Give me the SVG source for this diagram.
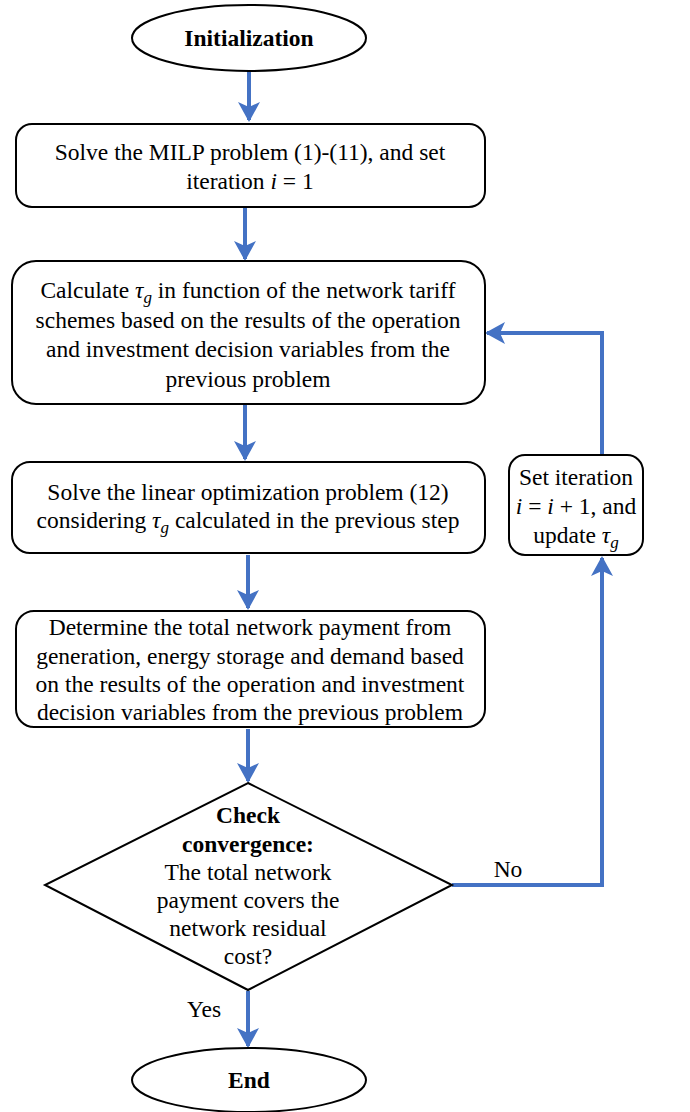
<svg xmlns="http://www.w3.org/2000/svg" width="690" height="1112" viewBox="0 0 690 1112">
<defs>
<style>
.n{fill:#fff;stroke:#000;stroke-width:2}
.t{font-family:"Liberation Serif","Times New Roman",serif;font-size:23.5px;fill:#000;text-anchor:middle}
.b{font-weight:bold}
.m{font-style:italic}
.c{fill:none;stroke:#4472C4;stroke-width:4}
</style>
<marker id="ah" viewBox="0 0 20 22" refX="18" refY="11" markerWidth="20" markerHeight="22" markerUnits="userSpaceOnUse" orient="auto">
<path d="M0,0 L20,11 L0,22 L5,11 Z" fill="#4472C4"/>
</marker>
</defs>
<rect width="690" height="1112" fill="#fff"/>
<g id="connectors">
<line class="c" x1="249" y1="72" x2="249" y2="120" marker-end="url(#ah)"/>
<line class="c" x1="245" y1="208" x2="245" y2="259" marker-end="url(#ah)"/>
<line class="c" x1="245" y1="405" x2="245" y2="459" marker-end="url(#ah)"/>
<line class="c" x1="248" y1="555" x2="248" y2="608" marker-end="url(#ah)"/>
<line class="c" x1="248" y1="729" x2="248" y2="781" marker-end="url(#ah)"/>
<line class="c" x1="248" y1="991" x2="248" y2="1046" marker-end="url(#ah)"/>
<path class="c" d="M452,885 H602 V558" marker-end="url(#ah)"/>
<path class="c" d="M602,455 V333 H487" marker-end="url(#ah)"/>
<text class="t" x="508" y="877">No</text>
<text class="t" x="204" y="1017">Yes</text>
</g>
<g id="init">
<ellipse class="n" cx="249" cy="38" rx="117" ry="33"/>
<text class="t b" x="249" y="46">Initialization</text>
</g>
<g id="milp">
<rect class="n" x="16" y="124" width="469" height="83" rx="16"/>
<text class="t" x="250" y="160">Solve the MILP problem (1)-(11), and set</text>
<text class="t" x="250" y="189">iteration <tspan class="m">i</tspan> = 1</text>
</g>
<g id="calc">
<rect class="n" x="12" y="261" width="473" height="143" rx="24"/>
<text class="t" x="248" y="298">Calculate <tspan class="m">τ</tspan><tspan class="m" font-size="17" dy="5">g</tspan><tspan dy="-5"> in function of the network tariff</tspan></text>
<text class="t" x="248" y="327.5">schemes based on the results of the operation</text>
<text class="t" x="248" y="357">and investment decision variables from the</text>
<text class="t" x="248" y="386.5">previous problem</text>
</g>
<g id="lin">
<rect class="n" x="12" y="462" width="473" height="91" rx="18"/>
<text class="t" x="248" y="500">Solve the linear optimization problem (12)</text>
<text class="t" x="248" y="528">considering <tspan class="m">τ</tspan><tspan class="m" font-size="17" dy="5">g</tspan><tspan dy="-5"> calculated in the previous step</tspan></text>
</g>
<g id="det">
<rect class="n" x="16" y="611" width="469" height="116" rx="18"/>
<text class="t" x="250" y="635">Determine the total network payment from</text>
<text class="t" x="250" y="664">generation, energy storage and demand based</text>
<text class="t" x="250" y="692">on the results of the operation and investment</text>
<text class="t" x="250" y="720">decision variables from the previous problem</text>
</g>
<g id="check">
<polygon class="n" points="248,783 452,885 248,990 45,885"/>
<text class="t b" x="248" y="823">Check</text>
<text class="t b" x="248" y="852">convergence:</text>
<text class="t" x="248" y="880">The total network</text>
<text class="t" x="248" y="908">payment covers the</text>
<text class="t" x="248" y="936">network residual</text>
<text class="t" x="248" y="964">cost?</text>
</g>
<g id="update">
<rect class="n" x="509" y="455" width="134" height="100" rx="16"/>
<text class="t" x="576" y="485">Set iteration</text>
<text class="t" x="576" y="514"><tspan class="m">i</tspan> = <tspan class="m">i</tspan> + 1, and</text>
<text class="t" x="576" y="543">update <tspan class="m">τ</tspan><tspan class="m" font-size="17" dy="5">g</tspan></text>
</g>
<g id="end">
<ellipse class="n" cx="249" cy="1080" rx="117" ry="32"/>
<text class="t b" x="249" y="1088">End</text>
</g>
</svg>
